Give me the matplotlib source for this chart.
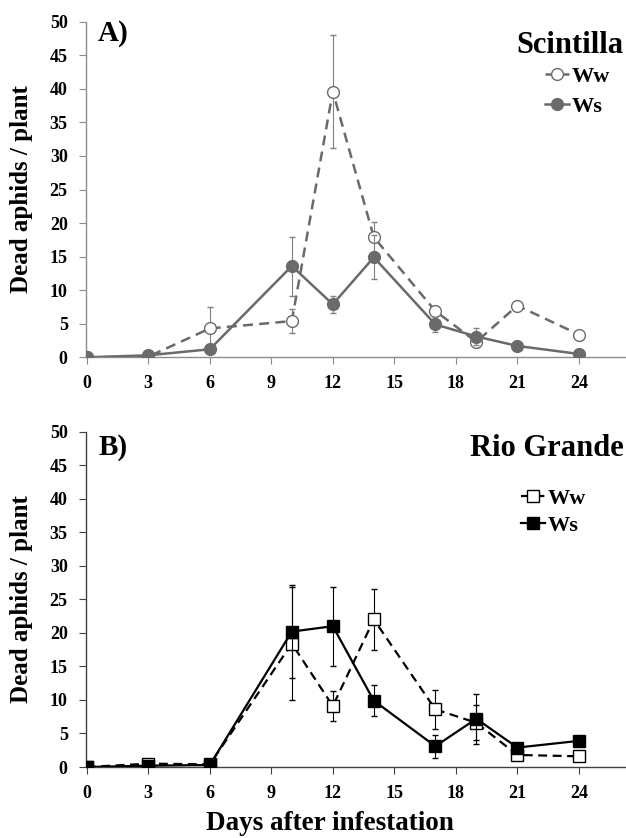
import matplotlib
matplotlib.use("Agg")
import matplotlib.pyplot as plt

plt.rcParams["font.family"] = ["Liberation Serif", "DejaVu Serif"]
plt.rcParams["font.weight"] = "bold"

# days after infestation
days = [0, 3, 6, 10, 12, 14, 17, 19, 21, 24]
xticks = [0, 3, 6, 9, 12, 15, 18, 21, 24]
yticks = [0, 5, 10, 15, 20, 25, 30, 35, 40, 45, 50]

# A) Scintilla
a_ww = [0, 0.1, 4.3, 5.4, 39.6, 17.9, 6.9, 2.3, 7.7, 3.4]
a_ww_err = [0, 0, 3.2, 1.8, 8.4, 2.2, 0.6, 0.8, 0.4, 0.3]
a_ws = [0, 0.3, 1.2, 13.6, 7.9, 14.9, 4.9, 3.1, 1.7, 0.5]
a_ws_err = [0, 0, 0.3, 4.4, 1.3, 3.3, 1.1, 1.3, 0.3, 0.2]

# B) Rio Grande
b_ww = [0, 0.5, 0.4, 18.4, 9.1, 22.0, 8.6, 6.6, 1.8, 1.6]
b_ww_err = [0, 0.3, 0.2, 8.4, 2.2, 4.5, 2.9, 2.6, 0.4, 0.3]
b_ws = [0, 0.2, 0.3, 20.2, 21.0, 9.9, 3.1, 7.2, 2.9, 3.9]
b_ws_err = [0, 0.1, 0.2, 6.9, 5.9, 2.3, 1.7, 3.7, 0.5, 0.4]

fig = plt.figure(figsize=(6.26, 8.38), dpi=100)
axA = fig.add_axes([0.137, 0.5736, 0.863, 0.4005])
axB = fig.add_axes([0.137, 0.0847, 0.863, 0.4001])


def style_axis(ax, spine_col):
    ax.set_xlim(-0.05, 26.3)
    ax.set_ylim(0, 50)
    ax.set_xticks(xticks)
    ax.set_yticks(yticks)
    for s in ["top", "right"]:
        ax.spines[s].set_visible(False)
    for s in ["left", "bottom"]:
        ax.spines[s].set_color(spine_col)
        ax.spines[s].set_linewidth(1.0)
    ax.tick_params(direction="out", length=5, width=0.8, color=spine_col,
                   labelsize=13, pad=8)
    for lab in ax.get_xticklabels() + ax.get_yticklabels():
        lab.set_fontweight("bold")
    ax.set_ylabel("Dead aphids / plant", fontsize=18, fontweight="bold")
    ax.yaxis.set_label_coords(-0.098, 0.5)


# panel A
gray = "#6a6a6a"
axA.errorbar(days, a_ww, yerr=a_ww_err, color=gray, ls=(0, (4, 2.5)), lw=1.8,
             marker="o", ms=8.5, mfc="white", mec=gray, mew=1.0,
             ecolor="#808080", elinewidth=0.8, capsize=2.5, label="Ww", zorder=3)
axA.errorbar(days, a_ws, yerr=a_ws_err, color=gray, ls="-", lw=1.8,
             marker="o", ms=8.5, mfc=gray, mec=gray,
             ecolor="#808080", elinewidth=0.8, capsize=2.5, label="Ws", zorder=4)
style_axis(axA, "#8c8c8c")
axA.text(0.023, 0.966, "A)", transform=axA.transAxes, fontsize=21,
         fontweight="bold", va="center", ha="left")
axA.text(0.995, 0.93, "Scintilla", transform=axA.transAxes, fontsize=22,
         fontweight="bold", va="center", ha="right")
hA, lA = axA.get_legend_handles_labels()
axA.legend([h[0] for h in hA], lA, loc="upper left", bbox_to_anchor=(0.85, 0.866),
           frameon=False, handlelength=1.1, handletextpad=0.1,
           labelspacing=0.4, borderpad=0, borderaxespad=0,
           prop={"weight": "bold", "size": 16})

# panel B
axB.errorbar(days, b_ww, yerr=b_ww_err, color="black", ls=(0, (4, 2.5)), lw=1.6,
             marker="s", ms=8.5, mfc="white", mec="black", mew=1.0,
             ecolor="black", elinewidth=0.8, capsize=2.5, label="Ww", zorder=3)
axB.errorbar(days, b_ws, yerr=b_ws_err, color="black", ls="-", lw=1.6,
             marker="s", ms=8.5, mfc="black", mec="black",
             ecolor="black", elinewidth=0.8, capsize=2.5, label="Ws", zorder=4)
style_axis(axB, "#404040")
axB.text(0.023, 0.954, "B)", transform=axB.transAxes, fontsize=21,
         fontweight="bold", va="center", ha="left")
axB.text(0.995, 0.951, "Rio Grande", transform=axB.transAxes, fontsize=22,
         fontweight="bold", va="center", ha="right")
hB, lB = axB.get_legend_handles_labels()
axB.legend([h[0] for h in hB], lB, loc="upper left", bbox_to_anchor=(0.805, 0.832),
           frameon=False, handlelength=1.1, handletextpad=0.1,
           labelspacing=0.3, borderpad=0, borderaxespad=0,
           prop={"weight": "bold", "size": 16})

fig.text(0.527, 0.002, "Days after infestation", ha="center", va="bottom",
         fontsize=19.5, fontweight="bold")

fig.savefig("out.png", dpi=100)
